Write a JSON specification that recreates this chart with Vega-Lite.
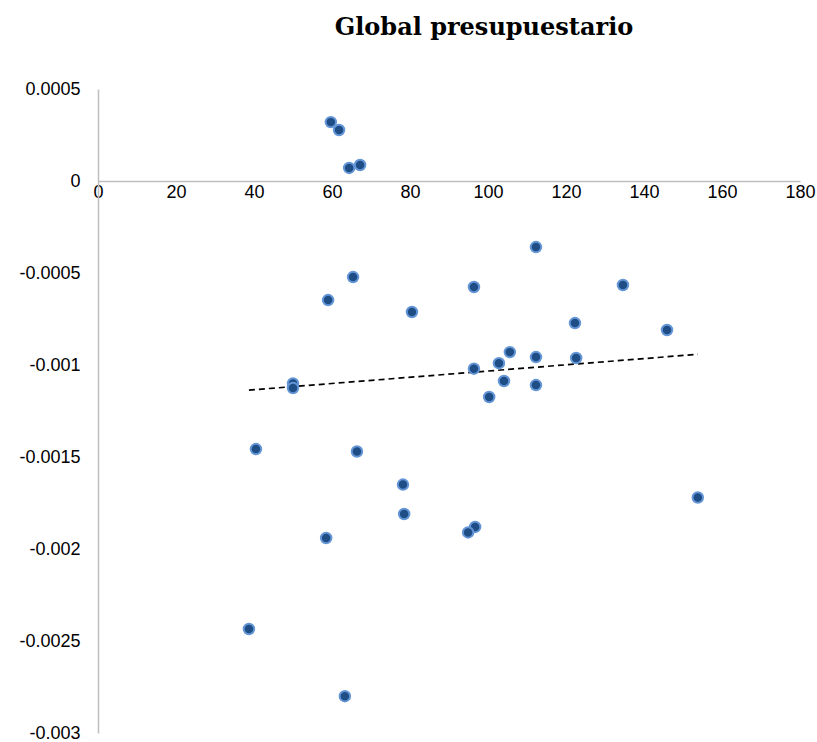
{
  "$schema": "https://vega.github.io/schema/vega-lite/v6.json",
  "width": 702,
  "height": 644,
  "autosize": "none",
  "padding": {"left": 98, "top": 89, "right": 17, "bottom": 9},
  "background": "white",
  "config": {"view": {"stroke": null}},
  "title": {
    "text": "Global presupuestario",
    "font": "DejaVu Serif",
    "fontSize": 24,
    "fontWeight": "bold",
    "color": "#000000",
    "anchor": "middle",
    "dx": 35,
    "baseline": "alphabetic",
    "offset": 21
  },
  "data": {
    "values": [
      {"x": 59.7, "y": 0.00032},
      {"x": 61.8, "y": 0.000277},
      {"x": 64.4, "y": 0.000071},
      {"x": 67.2, "y": 0.000087},
      {"x": 112.3, "y": -0.000359},
      {"x": 65.4, "y": -0.000522},
      {"x": 59.0, "y": -0.000647},
      {"x": 96.4, "y": -0.000576},
      {"x": 134.6, "y": -0.000565},
      {"x": 80.5, "y": -0.000712},
      {"x": 122.3, "y": -0.000772},
      {"x": 145.9, "y": -0.00081},
      {"x": 105.6, "y": -0.00093},
      {"x": 112.3, "y": -0.000957},
      {"x": 122.6, "y": -0.000962},
      {"x": 102.8, "y": -0.00099},
      {"x": 96.4, "y": -0.00102},
      {"x": 104.1, "y": -0.001087},
      {"x": 50.0, "y": -0.0011},
      {"x": 50.0, "y": -0.001125},
      {"x": 112.3, "y": -0.001109},
      {"x": 100.3, "y": -0.001174},
      {"x": 66.4, "y": -0.00147},
      {"x": 40.5, "y": -0.001457},
      {"x": 78.2, "y": -0.00165},
      {"x": 78.5, "y": -0.00181},
      {"x": 96.7, "y": -0.00188},
      {"x": 94.9, "y": -0.00191},
      {"x": 58.5, "y": -0.00194},
      {"x": 153.8, "y": -0.00172},
      {"x": 38.7, "y": -0.002435},
      {"x": 63.3, "y": -0.0028}
    ]
  },
  "layer": [
    {
      "transform": [{"regression": "y", "on": "x"}],
      "mark": {"type": "line", "color": "#000000", "strokeWidth": 1.7, "strokeDash": [6, 4]},
      "encoding": {
        "x": {"field": "x", "type": "quantitative"},
        "y": {"field": "y", "type": "quantitative"}
      }
    },
    {
      "mark": {"type": "point", "filled": true, "fill": "#1F4E86", "stroke": "#6495D6", "strokeWidth": 2, "size": 110, "opacity": 1, "strokeOpacity": 1, "fillOpacity": 1},
      "encoding": {
        "x": {
          "field": "x",
          "type": "quantitative",
          "scale": {"domain": [0, 180], "nice": false, "zero": false},
          "axis": {
            "orient": "bottom",
            "offset": -552,
            "title": null,
            "values": [0, 20, 40, 60, 80, 100, 120, 140, 160, 180],
            "grid": false,
            "ticks": false,
            "domainColor": "#BFBFBF",
            "domainWidth": 1.5,
            "labelFont": "Liberation Sans",
            "labelFontSize": 18,
            "labelColor": "#000000",
            "labelPadding": 2,
            "labelFlush": false,
            "labelOverlap": false
          }
        },
        "y": {
          "field": "y",
          "type": "quantitative",
          "scale": {"domain": [-0.003, 0.0005], "nice": false, "zero": false},
          "axis": {
            "title": null,
            "values": [0.0005, 0, -0.0005, -0.001, -0.0015, -0.002, -0.0025, -0.003],
            "labelExpr": "datum.value < 0 ? '-' + format(-datum.value, '~g') : format(datum.value, '~g')",
            "grid": false,
            "ticks": false,
            "domainColor": "#BFBFBF",
            "domainWidth": 1.5,
            "labelFont": "Liberation Sans",
            "labelFontSize": 18,
            "labelColor": "#000000",
            "labelPadding": 18,
            "labelFlush": false,
            "labelOverlap": false
          }
        }
      }
    }
  ]
}
